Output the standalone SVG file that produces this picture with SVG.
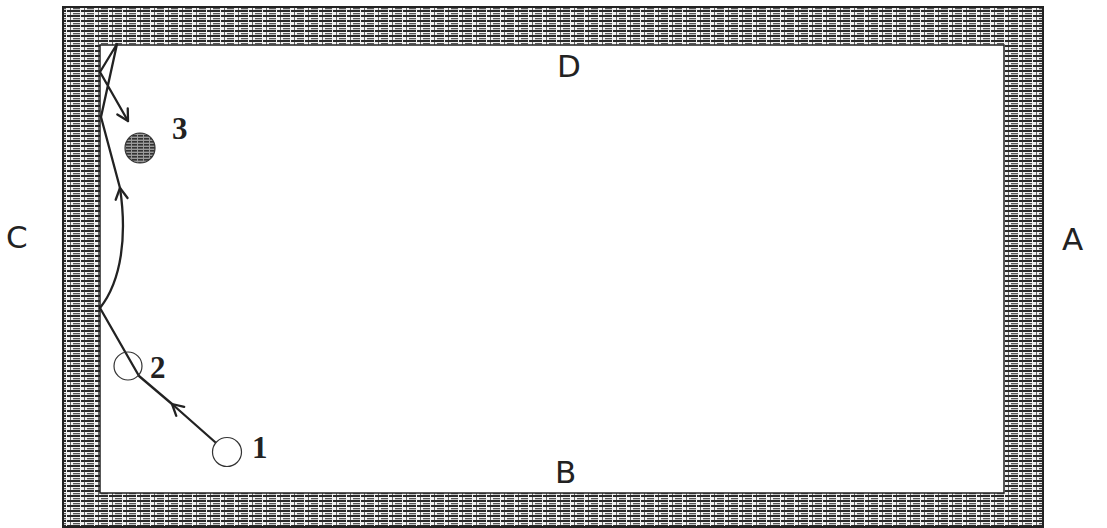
<svg xmlns="http://www.w3.org/2000/svg" width="1107" height="528" viewBox="0 0 1107 528">
  <defs>
    <pattern id="cloth" patternUnits="userSpaceOnUse" width="14" height="5">
      <rect width="14" height="5" fill="#f2f2f2"/>
      <rect x="0" y="0" width="10" height="2" fill="#2a2a2a"/>
      <rect x="11" y="0" width="3" height="2" fill="#2a2a2a"/>
      <rect x="3" y="3" width="7" height="1.3" fill="#555"/>
      <rect x="0" y="2" width="1" height="3" fill="#666"/>
    </pattern>
    <pattern id="ballfill" patternUnits="userSpaceOnUse" width="6" height="3">
      <rect width="6" height="3" fill="#9a9a9a"/>
      <rect x="0" y="0" width="5" height="1.6" fill="#333"/>
    </pattern>
    <marker id="arrow" markerUnits="userSpaceOnUse" markerWidth="14" markerHeight="16" viewBox="-12 -8 14 16" refX="0" refY="0" orient="auto" overflow="visible">
      <path d="M-11,-6 L0,0 L-11,6" fill="none" stroke="#222" stroke-width="2.3" stroke-linecap="round" stroke-linejoin="round"/>
    </marker>
    <style>
      .edge { fill: none; stroke: #222; stroke-width: 2.3; stroke-linecap: round; stroke-linejoin: round; }
      .ball { fill: none; stroke: #333; stroke-width: 1.2; }
      .num { font-family: "Liberation Serif", "DejaVu Serif", serif; font-weight: bold; font-size: 31px; fill: #222; }
      .side { font-family: "DejaVu Sans", "Liberation Sans", sans-serif; font-size: 31px; fill: #222; }
    </style>
  </defs>

  <rect width="1107" height="528" fill="#fff"/>

  <g id="table">
    <path d="M63,7 H1043 V527 H63 Z M100,45 V493 H1004 V45 Z" fill="url(#cloth)" fill-rule="evenodd"/>
    <rect x="63" y="7" width="980" height="520" fill="none" stroke="#222" stroke-width="2"/>
    <rect x="100" y="45" width="904" height="448" fill="#fff" stroke="#222" stroke-width="1.5"/>
  </g>

  <g id="connectors">
    <path class="edge" d="M215,442 L172,404" marker-end="url(#arrow)"/>
    <path class="edge" d="M172,404 L139,376 L100,308"/>
    <path class="edge" d="M100,308 C122,280 127,235 120,188" marker-end="url(#arrow)"/>
    <path class="edge" d="M120,188 L101,117 L117,44 L100,72 L128,121" marker-end="url(#arrow)"/>
  </g>

  <g id="ball1">
    <circle class="ball" cx="227" cy="452" r="14.5"/>
    <text class="num" x="252" y="458">1</text>
  </g>
  <g id="ball2">
    <circle class="ball" cx="128" cy="366" r="14"/>
    <text class="num" x="150" y="378">2</text>
  </g>
  <g id="ball3">
    <circle cx="140" cy="148" r="15" fill="url(#ballfill)" stroke="#333" stroke-width="1.2"/>
    <text class="num" x="172" y="139">3</text>
  </g>

  <g id="label-D"><text class="side" x="557" y="77">D</text></g>
  <g id="label-B"><text class="side" x="555" y="483">B</text></g>
  <g id="label-C"><text class="side" x="6" y="248">C</text></g>
  <g id="label-A"><text class="side" x="1062" y="250">A</text></g>
</svg>
